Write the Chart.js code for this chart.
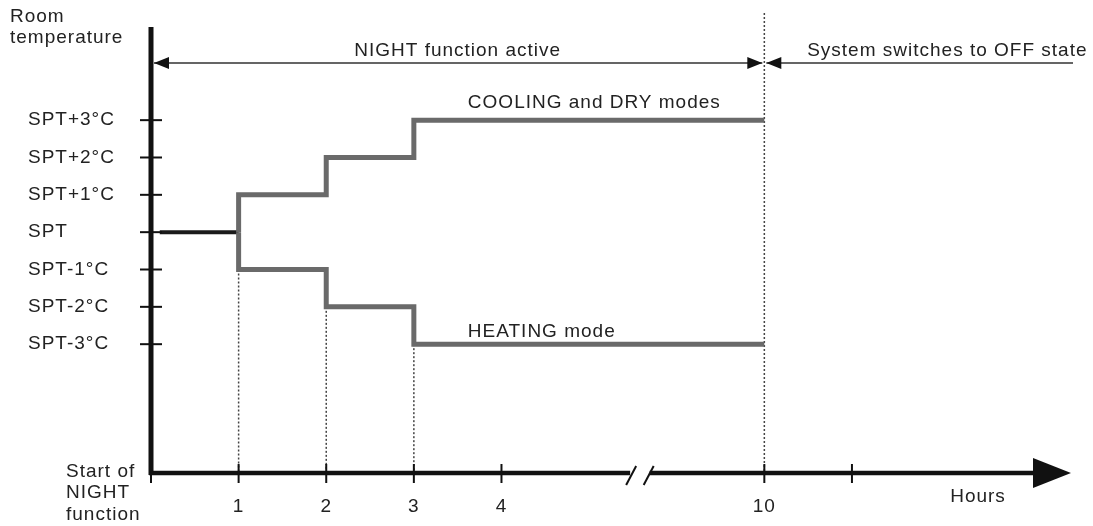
<!DOCTYPE html>
<html lang="en">
<head>
    <meta charset="UTF-8">
    <title>NIGHT function – room temperature</title>
    <script src="https://cdn.jsdelivr.net/npm/chart.js"></script>
    <style>
        body {
            margin: 0;
            background: #ffffff;
        }
        #wrap {
            width: 1093px;
            height: 526px;
        }
    </style>
</head>
<body>
    <div id="wrap"><canvas id="chart"></canvas></div>

    <script>
        // x positions on the drawn axis; the axis is cut after 4, so position 7 is hour 10
        const hourPos = [0, 1, 2, 3, 4, 7, 8];
        const hourLabels = ['', '1', '2', '3', '4', '10', ''];

        // offsets from the set point (°C)
        const levelValues = [3, 2, 1, 0, -1, -2, -3];
        const levelLabels = ['SPT+3°C', 'SPT+2°C', 'SPT+1°C', 'SPT', 'SPT-1°C', 'SPT-2°C', 'SPT-3°C'];

        // step profiles
        const stepHours = [1, 1, 2, 3, 7];
        const coolingSteps = [0, 1, 2, 3, 3];
        const heatingSteps = [0, -1, -2, -3, -3];

        // set point held before the night function starts changing it
        const sptHours = [0.1, 1];
        const sptLevel = [0, 0];

        // hours where a dotted guide drops to the axis, and where it starts
        const guideHours = [1, 2, 3];
        const guideFrom = [-1, -2, -3];
        const endHour = 7;

        const toPoints = (xs, ys) => xs.map((x, i) => ({ x: x, y: ys[i] }));

        const FONT = '19px "Liberation Sans", Arial, sans-serif';
        const TEXT = '#222222';

        function arrowHead(ctx, tipX, tipY, dir, len, half) {
            ctx.beginPath();
            ctx.moveTo(tipX, tipY);
            ctx.lineTo(tipX - dir * len, tipY - half);
            ctx.lineTo(tipX - dir * len, tipY + half);
            ctx.closePath();
            ctx.fill();
        }

        function label(ctx, text, x, y, align) {
            ctx.textAlign = align || 'center';
            ctx.fillText(text, x, y);
        }

        const diagram = {
            id: 'diagram',
            beforeDatasetsDraw(chart) {
                const ctx = chart.ctx;
                const xs = chart.scales.x;
                const ys = chart.scales.y;
                const yAxis = ys.bottom;

                ctx.save();
                ctx.strokeStyle = '#444444';
                ctx.lineWidth = 1.5;
                ctx.setLineDash([2, 2]);
                guideHours.forEach((h, i) => {
                    const px = xs.getPixelForValue(h);
                    ctx.beginPath();
                    ctx.moveTo(px, ys.getPixelForValue(guideFrom[i]));
                    ctx.lineTo(px, yAxis);
                    ctx.stroke();
                });
                const pEnd = xs.getPixelForValue(endHour);
                ctx.beginPath();
                ctx.moveTo(pEnd, ys.top + 3);
                ctx.lineTo(pEnd, yAxis);
                ctx.stroke();
                ctx.restore();
            },
            afterDatasetsDraw(chart) {
                const ctx = chart.ctx;
                const xs = chart.scales.x;
                const ys = chart.scales.y;
                const x0 = xs.getPixelForValue(0);
                const yAxis = ys.bottom;
                const xRight = xs.right;

                ctx.save();
                ctx.setLineDash([]);
                ctx.fillStyle = '#111111';
                ctx.strokeStyle = '#111111';

                // vertical axis
                ctx.lineWidth = 5;
                ctx.beginPath();
                ctx.moveTo(x0, ys.top + 17);
                ctx.lineTo(x0, yAxis + 2);
                ctx.stroke();

                // horizontal axis with arrow
                ctx.lineWidth = 4.5;
                ctx.beginPath();
                ctx.moveTo(x0 - 2, yAxis);
                ctx.lineTo(xRight - 30, yAxis);
                ctx.stroke();
                arrowHead(ctx, xRight, yAxis, 1, 38, 15);

                // axis break
                const b1 = xs.getPixelForValue(5.48);
                const b2 = xs.getPixelForValue(5.68);
                ctx.fillStyle = '#ffffff';
                ctx.fillRect(b1 - 1, yAxis - 4, b2 - b1 + 2, 8);
                ctx.lineWidth = 2;
                [b1, b2].forEach(b => {
                    ctx.beginPath();
                    ctx.moveTo(b - 5, yAxis + 12);
                    ctx.lineTo(b + 5, yAxis - 7);
                    ctx.stroke();
                });

                // ticks
                ctx.lineWidth = 2;
                hourPos.forEach(h => {
                    const px = xs.getPixelForValue(h);
                    ctx.beginPath();
                    ctx.moveTo(px, yAxis - 9);
                    ctx.lineTo(px, yAxis + 10);
                    ctx.stroke();
                });
                levelValues.forEach(v => {
                    const py = ys.getPixelForValue(v);
                    ctx.beginPath();
                    ctx.moveTo(x0 - 11, py);
                    ctx.lineTo(x0 + 11, py);
                    ctx.stroke();
                });

                // texts
                ctx.font = FONT;
                ctx.letterSpacing = '1px';
                ctx.fillStyle = TEXT;
                ctx.textBaseline = 'middle';

                levelLabels.forEach((t, i) => {
                    label(ctx, t, x0 - 123, ys.getPixelForValue(levelValues[i]), 'left');
                });
                hourLabels.forEach((t, i) => {
                    if (t) label(ctx, t, xs.getPixelForValue(hourPos[i]), yAxis + 34);
                });

                label(ctx, 'Room', 10, ys.top + 7, 'left');
                label(ctx, 'temperature', 10, ys.top + 28, 'left');
                label(ctx, 'Start of', 66, yAxis - 1, 'left');
                label(ctx, 'NIGHT', 66, yAxis + 20, 'left');
                label(ctx, 'function', 66, yAxis + 42, 'left');
                label(ctx, 'Hours', xRight - 93, yAxis + 24);

                const p3 = xs.getPixelForValue(3);
                label(ctx, 'COOLING and DRY modes', p3 + 54, ys.getPixelForValue(3) - 17, 'left');
                label(ctx, 'HEATING mode', p3 + 54, ys.getPixelForValue(-3) - 12, 'left');

                // NIGHT active / OFF arrows
                const pEnd = xs.getPixelForValue(endHour);
                const yArrow = ys.getPixelForValue(4.53);
                ctx.strokeStyle = '#333333';
                ctx.fillStyle = '#111111';
                ctx.lineWidth = 1.5;
                ctx.beginPath();
                ctx.moveTo(x0 + 3, yArrow);
                ctx.lineTo(pEnd - 2, yArrow);
                ctx.moveTo(pEnd + 2, yArrow);
                ctx.lineTo(xRight + 2, yArrow);
                ctx.stroke();
                arrowHead(ctx, x0 + 3, yArrow, -1, 15, 6);
                arrowHead(ctx, pEnd - 2, yArrow, 1, 15, 6);
                arrowHead(ctx, pEnd + 2, yArrow, -1, 15, 6);

                ctx.fillStyle = TEXT;
                label(ctx, 'NIGHT function active', (x0 + pEnd) / 2, ys.top + 41);
                label(ctx, 'System switches to OFF state', pEnd + 183, ys.top + 41);
                ctx.restore();
            }
        };

        new Chart(document.getElementById('chart'), {
            type: 'line',
            data: {
                datasets: [
                    {
                        label: 'COOLING and DRY modes',
                        data: toPoints(stepHours, coolingSteps),
                        stepped: 'before',
                        borderColor: '#6a6a6a',
                        borderWidth: 5,
                        borderJoinStyle: 'miter',
                        pointRadius: 0
                    },
                    {
                        label: 'HEATING mode',
                        data: toPoints(stepHours, heatingSteps),
                        stepped: 'before',
                        borderColor: '#6a6a6a',
                        borderWidth: 5,
                        borderJoinStyle: 'miter',
                        pointRadius: 0
                    },
                    {
                        label: 'SPT',
                        data: toPoints(sptHours, sptLevel),
                        borderColor: '#1a1a1a',
                        borderWidth: 4,
                        pointRadius: 0
                    }
                ]
            },
            options: {
                responsive: true,
                maintainAspectRatio: false,
                animation: false,
                layout: {
                    padding: { left: 151, right: 22, top: 10, bottom: 53 }
                },
                plugins: {
                    legend: { display: false },
                    tooltip: { enabled: false }
                },
                scales: {
                    x: { type: 'linear', min: 0, max: 10.5, display: false },
                    y: { type: 'linear', min: -6.45, max: 5.95, display: false }
                }
            },
            plugins: [diagram]
        });
    </script>
</body>
</html>
